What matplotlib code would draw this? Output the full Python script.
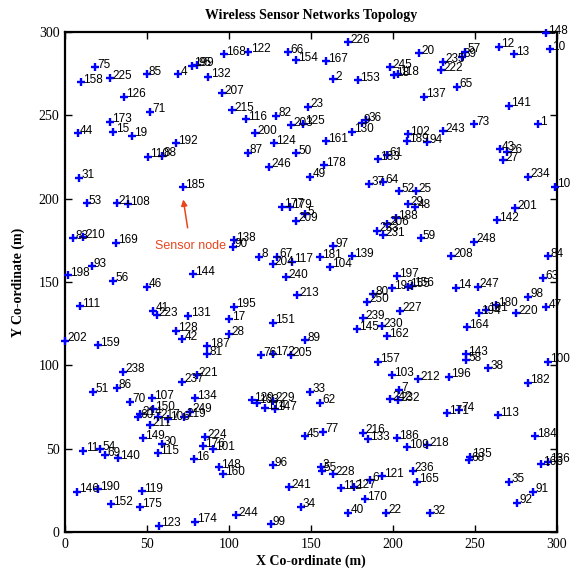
import matplotlib
matplotlib.use("Agg")
import matplotlib.pyplot as plt

# Node identifiers and their positions in the 300 m x 300 m field
node_ids = [
    75, 158, 225, 85, 4, 199, 95, 126, 71, 173, 44, 15, 19, 192, 110, 88, 31, 185,
    168, 122, 66, 154, 132, 207, 215, 116, 82, 203, 125, 200, 124, 87, 50, 246,
    226, 167, 2, 153, 245, 18, 118, 23, 36, 9, 130, 161, 102, 189, 94, 183, 61,
    178, 49, 37, 64, 52, 25, 20, 57, 39, 235, 222, 65, 137, 12, 13, 148, 10, 141,
    1, 73, 243, 43, 26, 27, 234, 105, 53, 21, 108, 83, 210, 169, 93, 198, 56, 46,
    111, 41, 223, 202, 159, 128, 42, 131, 177, 179, 209, 5, 138, 90, 8, 67, 204,
    117, 240, 213, 144, 195, 17, 28, 187, 81, 151, 76, 172, 205, 89, 188, 29, 48,
    233, 206, 231, 59, 97, 181, 104, 139, 197, 193, 155, 156, 80, 250, 227, 239,
    145, 230, 162, 157, 201, 142, 248, 208, 84, 63, 14, 247, 98, 47, 180, 194,
    191, 220, 164, 143, 58, 100, 38, 238, 51, 86, 70, 107, 150, 60, 214, 217, 106,
    219, 249, 211, 149, 30, 115, 11, 54, 69, 140, 146, 190, 119, 152, 175, 123,
    221, 237, 134, 224, 176, 101, 16, 148, 160, 96, 241, 34, 174, 244, 99, 129,
    163, 229, 114, 147, 33, 45, 62, 103, 212, 7, 242, 232, 77, 216, 133, 186, 109,
    3, 55, 228, 112, 127, 6, 121, 170, 40, 22, 236, 165, 196, 182, 171, 74, 113,
    184, 218, 135, 68, 166, 136, 35, 91, 92, 32,
]
node_x = [
    18.3, 9.8, 27.4, 49.8, 68.9, 77.3, 80.3, 36.0, 51.8, 27.4, 7.7, 29.5, 40.7, 67.5, 50.8, 59.0, 8.7, 72.1,
    97.1, 111.8, 135.8, 140.9, 87.4, 95.9, 102.0, 110.4, 128.7, 137.8, 144.9, 115.9, 127.6, 111.4, 140.9, 124.6,
    172.7, 159.1, 163.6, 178.8, 198.2, 200.8, 203.2, 148.4, 183.5, 180.9, 174.8, 159.1, 209.3, 208.4, 220.9, 191.0, 196.5,
    157.9, 149.4, 185.4, 194.1, 203.8, 214.0, 216.0, 243.9, 241.9, 230.7, 229.1, 239.2, 218.9, 264.8, 273.8, 293.3, 295.7, 270.9,
    288.6, 249.4, 230.7, 265.2, 269.7, 266.9, 282.5, 298.8, 13.2, 31.5, 38.6, 5.1, 11.2, 31.1, 16.3, 1.6, 29.5, 49.8,
    9.1, 53.8, 55.9, 0.0, 19.9, 67.5, 71.5, 75.2, 132.1, 137.2, 140.9, 146.3, 103.0, 102.3, 118.5, 129.5, 126.6,
    138.2, 134.8, 141.3, 77.9, 103.0, 100.2, 100.2, 86.8, 86.8, 126.6, 119.3, 126.6, 137.6, 146.3, 201.8, 209.3, 213.4,
    190.1, 196.5, 194.1, 216.9, 163.6, 155.5, 161.6, 174.8, 202.3, 199.2, 209.3, 211.6, 188.0, 184.0, 204.3, 181.9,
    177.9, 193.1, 196.5, 191.0, 274.4, 263.2, 249.6, 235.2, 294.7, 291.6, 238.4, 251.6, 282.5, 293.3, 262.8, 252.6,
    256.7, 275.0, 245.3, 244.5, 244.5, 294.7, 258.1, 35.5, 17.3, 31.5, 39.6, 52.9, 53.5, 44.7, 45.7, 56.9, 63.0,
    72.6, 76.2, 51.8, 47.7, 59.0, 56.9, 11.2, 21.3, 24.4, 32.5, 7.1, 19.9, 47.1, 28.0, 45.7, 57.3,
    80.3, 71.2, 79.3, 85.4, 84.0, 90.4, 78.7, 94.1, 96.2, 126.6, 136.8, 143.7, 79.3, 104.3, 125.4, 113.8,
    116.9, 127.0, 122.0, 128.0, 149.4, 146.3, 155.5, 199.2, 215.4, 203.8, 198.2, 203.2, 157.5, 181.9, 184.9, 202.3, 208.4,
    155.9, 156.5, 163.6, 168.1, 176.2, 186.0, 193.1, 182.9, 172.7, 195.7, 212.0, 214.5, 234.3, 282.5, 233.1, 240.4, 264.2,
    286.6, 220.9, 247.0, 246.5, 290.1, 294.7, 270.9, 285.6, 275.8, 222.6,
]
node_y = [
    278.8, 269.8, 272.2, 274.8, 274.8, 279.8, 280.2, 261.2, 252.2, 246.2, 239.2, 240.2, 237.8, 233.2, 225.2, 225.8, 212.6, 206.8,
    286.8, 288.2, 287.8, 283.2, 273.2, 263.2, 253.2, 247.6, 249.8, 244.2, 245.0, 239.2, 233.2, 227.6, 227.2, 219.2,
    293.8, 282.6, 271.6, 271.2, 278.8, 274.2, 274.6, 255.2, 247.2, 245.6, 240.2, 234.6, 238.6, 234.6, 233.8, 223.6, 226.2,
    220.2, 213.2, 208.6, 209.8, 204.6, 204.6, 287.2, 288.2, 285.2, 282.2, 277.2, 267.2, 261.2, 291.2, 286.6, 299.2, 289.6, 255.8,
    244.6, 244.6, 240.6, 229.8, 227.8, 223.2, 213.2, 207.2, 197.2, 197.2, 196.8, 176.2, 176.8, 173.6, 159.6, 154.2, 150.8, 147.2,
    135.6, 132.8, 130.2, 114.8, 112.2, 120.8, 115.6, 129.8, 195.2, 194.8, 186.8, 190.8, 175.2, 171.2, 165.2, 165.2, 160.8,
    162.2, 152.8, 142.2, 154.8, 135.2, 127.6, 118.8, 111.6, 106.8, 125.6, 106.2, 106.8, 106.2, 115.2, 188.2, 196.8, 194.8,
    180.8, 184.8, 178.2, 176.2, 171.6, 164.8, 159.2, 165.6, 153.6, 146.2, 147.2, 147.9, 142.8, 138.2, 132.8, 128.2,
    121.6, 123.6, 117.6, 102.2, 194.2, 187.2, 174.2, 165.6, 165.6, 152.2, 146.6, 147.2, 141.2, 134.8, 136.2, 131.2,
    133.2, 131.2, 122.8, 106.8, 103.2, 102.2, 98.2, 96.2, 84.2, 86.6, 78.2, 80.2, 73.6, 68.8, 70.8, 68.8, 67.6,
    69.2, 72.2, 64.2, 56.2, 52.8, 47.2, 48.8, 49.6, 46.2, 44.2, 24.2, 25.6, 24.6, 16.6, 15.2, 3.8,
    94.2, 90.2, 80.2, 56.8, 51.6, 49.6, 43.6, 38.8, 34.8, 40.2, 26.8, 15.2, 6.2, 10.2, 4.8, 79.2,
    77.6, 78.8, 74.2, 73.6, 84.2, 57.6, 77.6, 94.2, 91.6, 85.2, 79.6, 79.2, 60.2, 59.6, 55.6, 56.2, 50.8,
    38.8, 36.8, 34.8, 26.2, 26.8, 31.2, 33.6, 19.6, 11.6, 11.6, 36.8, 30.2, 93.2, 89.6, 71.2, 73.2, 70.2,
    57.6, 52.2, 45.2, 43.2, 40.8, 42.2, 30.2, 24.2, 17.6, 11.2,
]

x_ticks = [0, 50, 100, 150, 200, 250, 300]
y_ticks = [0, 50, 100, 150, 200, 250, 300]

serif = ["Liberation Serif", "DejaVu Serif"]
sans = ["Liberation Sans", "DejaVu Sans"]

fig = plt.figure(figsize=(5.70, 5.71), dpi=100)
ax = fig.add_axes([65 / 570, 39 / 571, 492 / 570, 500 / 571])

ax.plot(node_x, node_y, linestyle="none", marker="+", color="#0000ff",
        markersize=6.3, markeredgewidth=1.7, clip_on=False, zorder=3)

for nid, x, y in zip(node_ids, node_x, node_y):
    ax.annotate(str(nid), (x, y), xytext=(1.6, 1.6), textcoords="offset points",
                ha="left", va="center", fontsize=8.5, family=sans,
                color="black", annotation_clip=False, zorder=4)

# Callout pointing at one of the nodes
ax.annotate("Sensor node", xy=(72.1, 199.5), xytext=(76.5, 171.5),
            ha="center", va="center", fontsize=9, family=sans, color="#e8451e",
            arrowprops=dict(arrowstyle="-|>", color="#e8451e", lw=1.1,
                            mutation_scale=9, shrinkA=7, shrinkB=0))

ax.set_xlim(0, 300)
ax.set_ylim(0, 300)
ax.set_xticks(x_ticks)
ax.set_yticks(y_ticks)
ax.set_xticklabels([str(t) for t in x_ticks], family=serif, fontsize=10)
ax.set_yticklabels([str(t) for t in y_ticks], family=serif, fontsize=10)
ax.tick_params(direction="in", length=5, width=1, top=True, right=True,
               pad=4, colors="black")
for sp in ax.spines.values():
    sp.set_linewidth(1.6)
    sp.set_color("black")

ax.set_title("Wireless Sensor Networks Topology", family=serif, fontsize=10,
             fontweight="bold", pad=9)
ax.set_xlabel("X Co-ordinate (m)", family=serif, fontsize=10, fontweight="bold",
              labelpad=3)
ax.set_ylabel("Y Co-ordinate (m)", family=serif, fontsize=10, fontweight="bold",
              labelpad=10)

fig.savefig("out.png", dpi=100, facecolor="white")
